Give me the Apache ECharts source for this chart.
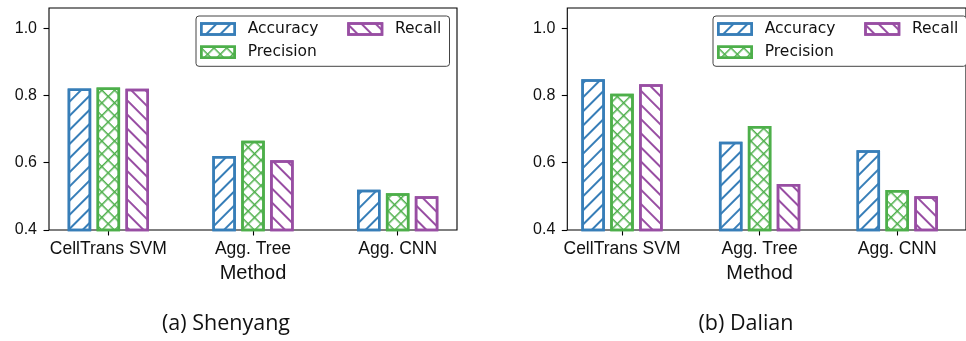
<!DOCTYPE html>
<html>
<head>
<meta charset="utf-8">
<script src="https://cdn.jsdelivr.net/npm/echarts@6/dist/echarts.min.js"></script>
<style>
  html, body { margin: 0; padding: 0; background: #fff; }
  #chart { width: 966px; height: 341px; }
</style>
</head>
<body>
<div id="chart"></div>
<script>
// Methods compared on the x axis
const methods = ['CellTrans SVM', 'Agg. Tree', 'Agg. CNN'];
const metricNames = ['Accuracy', 'Precision', 'Recall'];

// Shenyang scores
const shenyangAccuracy = [0.821, 0.620, 0.520];
const shenyangPrecision = [0.824, 0.665, 0.509];
const shenyangRecall = [0.820, 0.607, 0.500];

// Dalian scores
const dalianAccuracy = [0.848, 0.662, 0.637];
const dalianPrecision = [0.805, 0.709, 0.519];
const dalianRecall = [0.833, 0.537, 0.500];

const yTicks = [0.4, 0.6, 0.8, 1.0];
const yMin = 0.4;
const yMax = 1.06;
const captions = ['(a) Shenyang', '(b) Dalian'];
const axisTitle = 'Method';

const colors = ['#377eb8', '#4daf4a', '#984ea3'];
const tickFont = 'Liberation Sans';

// hatch patterns: "/" for accuracy, "x" for precision, "\" for recall
function stripe(rotation, color) {
  return { symbol: 'rect', symbolSize: 1, dashArrayX: [1, 0], dashArrayY: [1.3, 7.7], rotation: rotation, color: color };
}
function cross(color) {
  return { symbol: 'path://M0 0H9V1.5H0Z M0 0H1.5V9H0Z', symbolSize: 1, dashArrayX: [9, 0], dashArrayY: [9, 0], rotation: Math.PI / 4, color: color };
}
const decals = [stripe(-Math.PI / 4, colors[0]), cross(colors[1]), stripe(Math.PI / 4, colors[2])];

function barSeries(name, idx, values, axisIdx) {
  return {
    type: 'bar', name: name, xAxisIndex: axisIdx, yAxisIndex: axisIdx, data: values,
    barWidth: 23.5, barGap: '23%', silent: true,
    itemStyle: { color: '#fff', borderColor: colors[idx], borderWidth: 2.5, decal: decals[idx] }
  };
}

function categoryAxis(gridIndex) {
  return {
    gridIndex: gridIndex, type: 'category', data: methods,
    axisLine: { show: false },
    axisTick: { show: true, alignWithLabel: true, length: 5.5, lineStyle: { color: '#000', width: 1.1 } },
    axisLabel: { interval: 0, margin: 10.7, color: '#111', fontFamily: tickFont, fontSize: 17.5, lineHeight: 17.5 },
    name: axisTitle, nameLocation: 'middle', nameGap: 29.5,
    nameTextStyle: { color: '#111', fontFamily: tickFont, fontSize: 20, lineHeight: 20 }
  };
}
function scoreAxis(gridIndex) {
  return {
    gridIndex: gridIndex, type: 'value', min: yMin, max: yMax,
    axisLine: { show: false }, splitLine: { show: false },
    axisTick: { show: true, length: 5.5, customValues: yTicks, lineStyle: { color: '#000', width: 1.1 } },
    axisLabel: { customValues: yTicks, margin: 12, color: '#111', fontFamily: tickFont, fontSize: 16,
                 formatter: v => v.toFixed(1) }
  };
}
function legendAt(left) {
  return {
    left: left, top: 16, height: 51, orient: 'vertical', icon: 'rect',
    padding: [4, 4, 5, 4], itemGap: 5.3, itemWidth: 33.5, itemHeight: 11,
    backgroundColor: '#fff', borderColor: '#444', borderWidth: 1, borderRadius: 3,
    selectedMode: false,
    itemStyle: { borderWidth: 2.5 },
    textStyle: { fontFamily: 'DejaVu Sans', fontSize: 15.5, color: '#111', lineHeight: 18, width: 94.2, padding: [0, 0, 0, 8] },
    data: [{ name: 'Accuracy' }, { name: 'Precision' }, { name: 'Recall', textStyle: { width: 50.5 } }]
  };
}

const chart = echarts.init(document.getElementById('chart'), null, { renderer: 'canvas' });
chart.setOption({
  animation: false,
  backgroundColor: '#fff',
  grid: [
    { left: 36, top: 8, width: 434, height: 222 },
    { left: 49, top: 8, width: 408, height: 222, show: true, borderColor: '#000', borderWidth: 1.1, backgroundColor: 'transparent' },
    { left: 553.2, top: 8, width: 435, height: 222 },
    { left: 567.3, top: 8, width: 408, height: 222, show: true, borderColor: '#000', borderWidth: 1.1, backgroundColor: 'transparent' }
  ],
  xAxis: [
    categoryAxis(0),
    { gridIndex: 1, type: 'value', show: false },
    categoryAxis(2),
    { gridIndex: 3, type: 'value', show: false }
  ],
  yAxis: [
    { gridIndex: 0, type: 'value', min: yMin, max: yMax, show: false },
    scoreAxis(1),
    { gridIndex: 2, type: 'value', min: yMin, max: yMax, show: false },
    scoreAxis(3)
  ],
  legend: [legendAt(196), legendAt(713)],
  series: [
    barSeries(metricNames[0], 0, shenyangAccuracy, 0),
    barSeries(metricNames[1], 1, shenyangPrecision, 0),
    barSeries(metricNames[2], 2, shenyangRecall, 0),
    barSeries(metricNames[0], 0, dalianAccuracy, 2),
    barSeries(metricNames[1], 1, dalianPrecision, 2),
    barSeries(metricNames[2], 2, dalianRecall, 2)
  ],
  graphic: [
    { type: 'text', x: 226, y: 324, silent: true,
      style: { text: captions[0], font: '21.5px "Open Sans"', fill: '#111', align: 'center', verticalAlign: 'middle', textAlign: 'center', textVerticalAlign: 'middle' } },
    { type: 'text', x: 746, y: 324, silent: true,
      style: { text: captions[1], font: '21.5px "Open Sans"', fill: '#111', align: 'center', verticalAlign: 'middle', textAlign: 'center', textVerticalAlign: 'middle' } }
  ]
});
</script>
</body>
</html>
